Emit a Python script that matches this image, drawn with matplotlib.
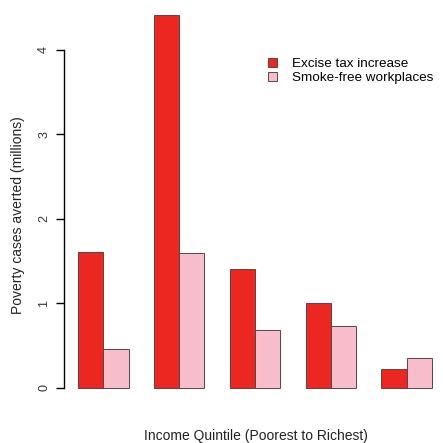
import matplotlib
matplotlib.use("Agg")
import matplotlib.pyplot as plt
from matplotlib.patches import Patch
import numpy as np

plt.rcParams['font.family'] = ['Liberation Sans', 'DejaVu Sans']

quintiles = ["1", "2", "3", "4", "5"]
excise_tax = [1.61, 4.41, 1.41, 1.01, 0.23]
smoke_free = [0.46, 1.59, 0.69, 0.73, 0.36]
series_labels = ["Excise tax increase", "Smoke-free workplaces"]
y_ticks = [0, 1, 2, 3, 4]
x_label = "Income Quintile (Poorest to Richest)"
y_label = "Poverty cases averted (millions)"

red = '#EC2620'
pink = '#F7BDCB'
edge = '#5e4444'

W, H = 443, 443
fig = plt.figure(figsize=(W / 100, H / 100), dpi=100)
ax = fig.add_axes([64 / W, 40.1 / H, 382 / W, 402.9 / H])

n = len(quintiles)
starts = 1 + 3 * np.arange(n)  # R barplot beside=TRUE layout
ax.bar(starts, excise_tax, width=1, align='edge', color=red, edgecolor=edge, linewidth=0.7)
ax.bar(starts + 1, smoke_free, width=1, align='edge', color=pink, edgecolor=edge, linewidth=0.7)

ymax = max(max(excise_tax), max(smoke_free))
ax.set_xlim(0.44, 15.56)
ax.set_ylim(-0.04 * ymax, ymax * 1.04)

for s in ['top', 'right', 'bottom']:
    ax.spines[s].set_visible(False)
ax.spines['left'].set_bounds(0, 4)
ax.spines['left'].set_linewidth(1.0)
ax.set_xticks([])
ax.set_yticks(y_ticks)
ax.set_yticklabels([str(t) for t in y_ticks], rotation=90, va='center', fontsize=9, color='#333333')
ax.tick_params(axis='y', length=6, width=1.0, pad=4)

fig.text(256 / W, 1 - 436 / H, x_label, ha='center', va='center', fontsize=10, color='#222222')
fig.text(18 / W, 1 - 215.5 / H, y_label, ha='center', va='center', rotation=90, fontsize=10, color='#222222')

handles = [Patch(facecolor=red, edgecolor=edge, linewidth=0.7),
           Patch(facecolor=pink, edgecolor=edge, linewidth=0.7)]
fig.legend(handles, series_labels, loc='upper left', bbox_to_anchor=(268 / W, 1 - 58 / H),
           frameon=False, fontsize=9.7, handlelength=0.7, handleheight=0.7,
           handletextpad=1.1, labelspacing=0.12, borderpad=0, borderaxespad=0)

fig.savefig('out.png', dpi=100)
